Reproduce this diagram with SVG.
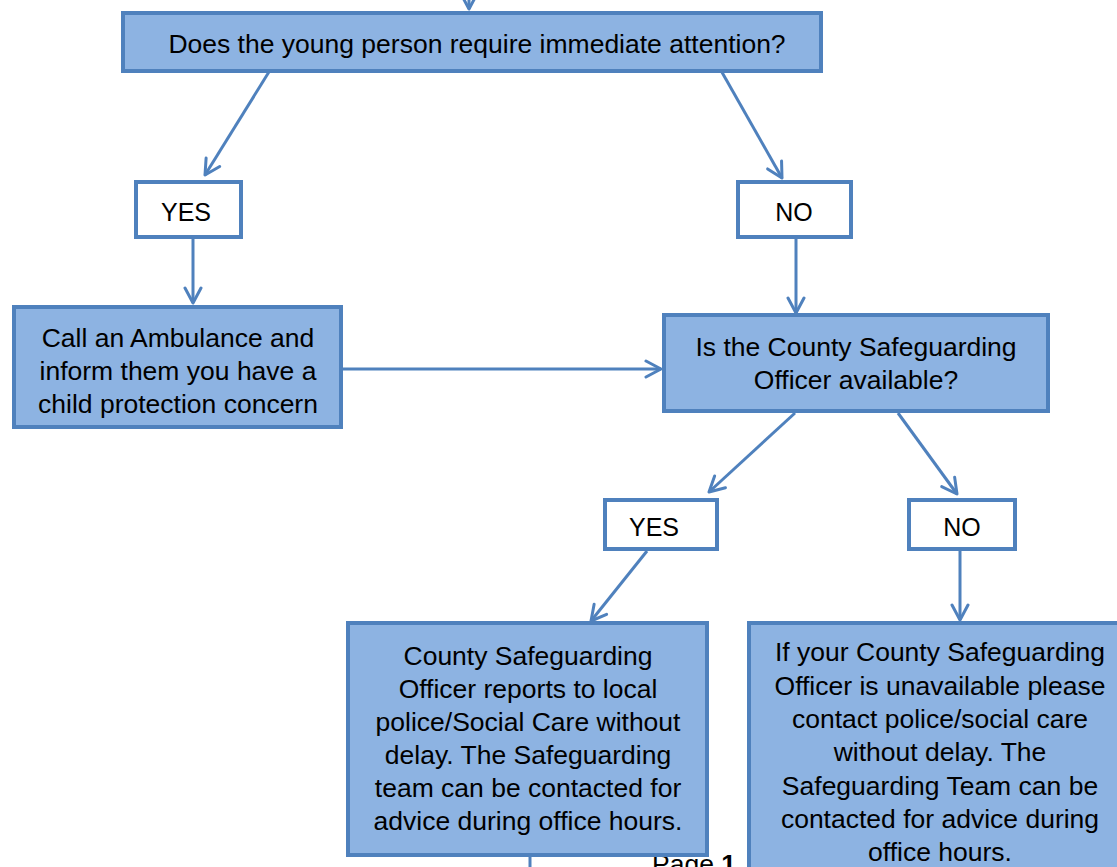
<svg xmlns="http://www.w3.org/2000/svg" width="1117" height="867" viewBox="0 0 1117 867">
<defs>
<marker id="ah" viewBox="0 0 20 20" refX="18" refY="10" markerWidth="20" markerHeight="20" markerUnits="userSpaceOnUse" orient="auto">
<polyline points="3,2 18,10 3,18" fill="none" stroke="#4F81BD" stroke-width="3" stroke-linecap="round" stroke-linejoin="round"/>
</marker>
</defs>
<style>
.blue{fill:#8DB3E2;stroke:#4F81BD;stroke-width:4}
.white{fill:#FFFFFF;stroke:#4F81BD;stroke-width:4}
.conn{fill:none;stroke:#4F81BD;stroke-width:3;marker-end:url(#ah)}
text{font-family:"Liberation Sans",Arial,sans-serif;font-size:26.5px;fill:#000;text-anchor:middle}
</style>
<text x="652" y="873" style="text-anchor:start">Page <tspan font-weight="bold">1</tspan></text>
<g id="connectors">
<line class="conn" x1="469" y1="-20" x2="469" y2="9"/>
<line class="conn" x1="272" y1="67" x2="205" y2="175"/>
<line class="conn" x1="719" y1="67" x2="782" y2="178"/>
<line class="conn" x1="193" y1="236" x2="193" y2="303"/>
<line class="conn" x1="796" y1="237" x2="796" y2="313"/>
<line class="conn" x1="343" y1="369" x2="661" y2="369"/>
<line class="conn" x1="795" y1="413" x2="709" y2="492"/>
<line class="conn" x1="898" y1="413" x2="957" y2="494"/>
<line class="conn" x1="647" y1="551" x2="591" y2="621"/>
<line class="conn" x1="960" y1="550" x2="960" y2="620"/>
<line x1="530" y1="855" x2="530" y2="870" stroke="#4F81BD" stroke-width="3"/>
</g>
<g id="q1">
<rect class="blue" x="123" y="13" width="698" height="58"/>
<text x="477" y="53">Does the young person require immediate attention?</text>
</g>
<g id="yes1">
<rect class="white" x="136" y="182" width="105" height="55"/>
<text x="186" y="221" style="font-size:25px">YES</text>
</g>
<g id="no1">
<rect class="white" x="738" y="182" width="113" height="55"/>
<text x="794" y="221" style="font-size:25px">NO</text>
</g>
<g id="ambulance">
<rect class="blue" x="14" y="307" width="327" height="120"/>
<text x="178" y="347">Call an Ambulance and</text>
<text x="178" y="380">inform them you have a</text>
<text x="178" y="413">child protection concern</text>
</g>
<g id="q2">
<rect class="blue" x="664" y="315" width="384" height="96"/>
<text x="856" y="356">Is the County Safeguarding</text>
<text x="856" y="389">Officer available?</text>
</g>
<g id="yes2">
<rect class="white" x="605" y="500" width="112" height="49"/>
<text x="654" y="536" style="font-size:25px">YES</text>
</g>
<g id="no2">
<rect class="white" x="909" y="500" width="106" height="49"/>
<text x="962" y="536" style="font-size:25px">NO</text>
</g>
<g id="report">
<rect class="blue" x="348" y="623" width="359" height="232"/>
<text x="528" y="665">County Safeguarding</text>
<text x="528" y="698">Officer reports to local</text>
<text x="528" y="731">police/Social Care without</text>
<text x="528" y="764">delay. The Safeguarding</text>
<text x="528" y="797">team can be contacted for</text>
<text x="528" y="830">advice during office hours.</text>
</g>
<g id="unavailable">
<rect class="blue" x="749" y="623" width="380" height="260"/>
<text x="940" y="661">If your County Safeguarding</text>
<text x="940" y="695">Officer is unavailable please</text>
<text x="940" y="728">contact police/social care</text>
<text x="940" y="761">without delay. The</text>
<text x="940" y="795">Safeguarding Team can be</text>
<text x="940" y="828">contacted for advice during</text>
<text x="940" y="861">office hours.</text>
</g>
</svg>
